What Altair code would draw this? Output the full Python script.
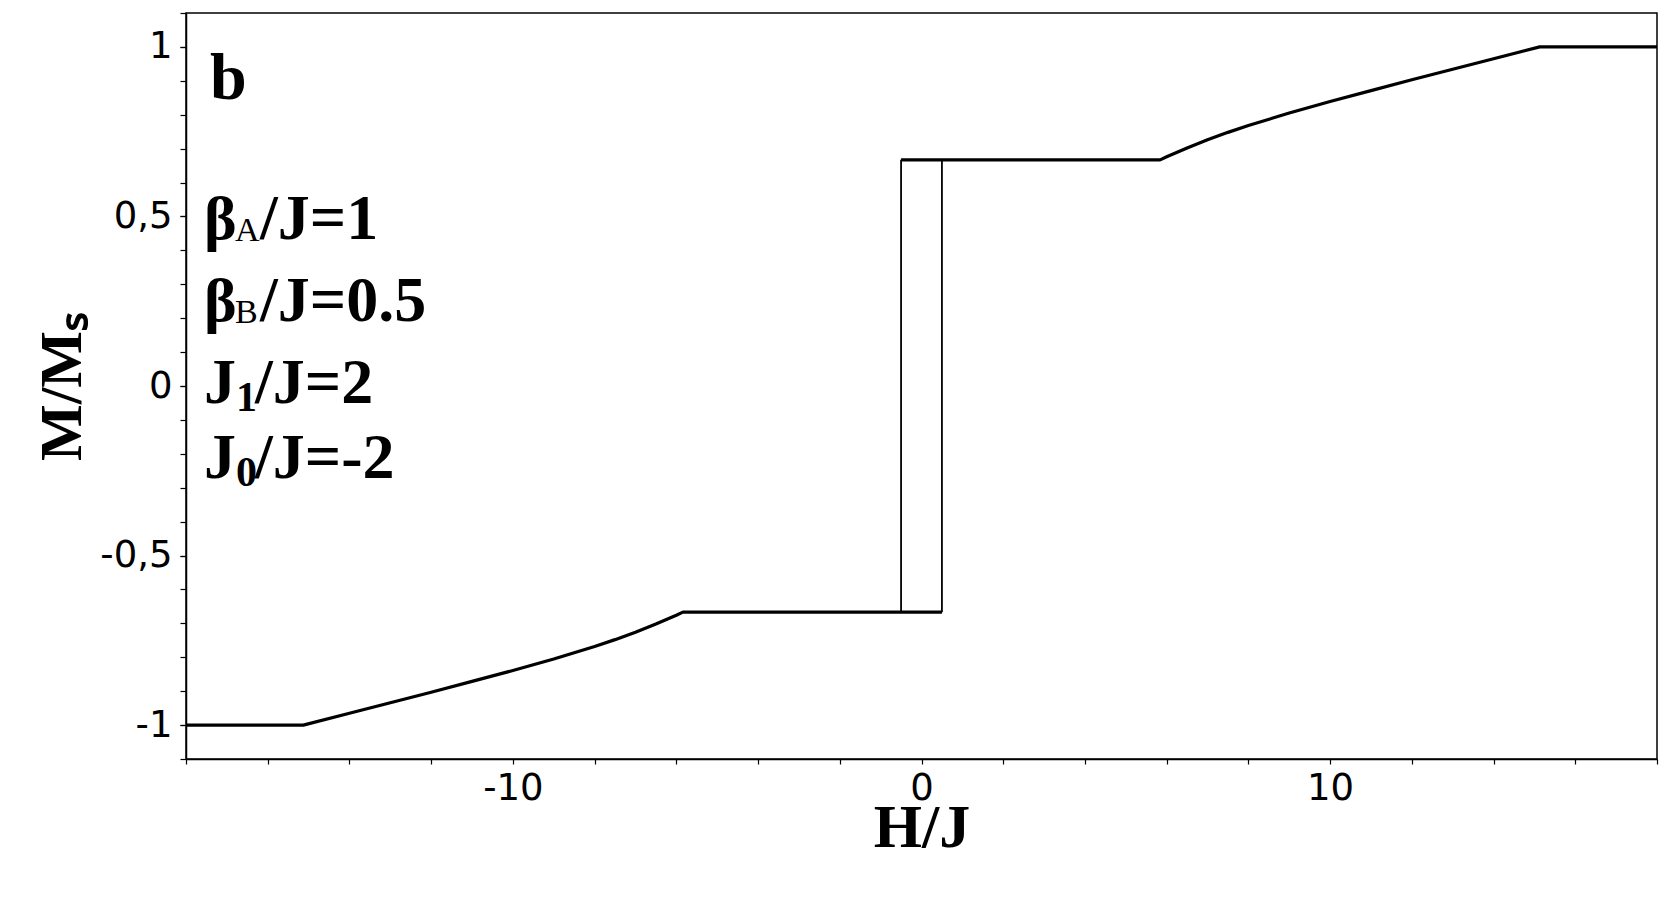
import altair as alt
import pandas as pd

# ---- data ----
# lower branch: M = -1 plateau, rising part, -2/3 plateau up to the jump at H = +0.5
H_low = [-18, -15.13, -14, -13, -12, -11, -10, -9, -8, -7.5, -7, -6.5, -6, -5.84, 0.5]
M_low = [-1, -1, -0.965, -0.934, -0.903, -0.871, -0.839, -0.805, -0.768, -0.748,
         -0.726, -0.702, -0.676, -0.667, -0.667]
# upper branch: +2/3 plateau from the jump at H = -0.5, rising part, M = 1 plateau
H_high = [-0.5, 5.84, 6, 6.5, 7, 7.5, 8, 9, 10, 11, 12, 13, 14, 15.13, 18]
M_high = [0.667, 0.667, 0.676, 0.702, 0.726, 0.748, 0.768, 0.805, 0.839, 0.871,
          0.903, 0.934, 0.965, 1, 1]
# vertical jumps of the hysteresis loop
jump_H = [-0.5, 0.5]
jump_M_from = [-0.667, -0.667]
jump_M_to = [0.667, 0.667]

x_ticks = [-18, -16, -14, -12, -10, -8, -6, -4, -2, 0, 2, 4, 6, 8, 10, 12, 14, 16, 18]
y_major = [-1, -0.5, 0, 0.5, 1]
y_minor = [-1.1, -1.0, -0.9, -0.8, -0.7, -0.6, -0.5, -0.4, -0.3, -0.2, -0.1, 0.0,
           0.1, 0.2, 0.3, 0.4, 0.5, 0.6, 0.7, 0.8, 0.9, 1.0, 1.1]

# annotation text
panel_label = ["b"]
panel_H = [-17.41]
panel_M = [0.847]
ann_H = -17.56
line_M = [0.433, 0.193, -0.049, -0.271]
heads = ["β", "β", "J", "J"]
subs = ["A", "B", "1", "0"]
tails = ["/J=1", "/J=0.5", "/J=2", "/J=-2"]

# ---- tables ----
curve = pd.DataFrame({
    "H": H_low + H_high,
    "M": M_low + M_high,
    "branch": ["low"] * len(H_low) + ["high"] * len(H_high),
    "idx": list(range(len(H_low))) + list(range(len(H_high))),
})
jumps = pd.DataFrame({"H": jump_H, "M0": jump_M_from, "M1": jump_M_to})
ann = pd.DataFrame({"H": [ann_H] * 4, "M": line_M, "head": heads, "sub": subs, "tail": tails})
ann_greek = ann.iloc[0:2]
ann_j = ann.iloc[2:4]
lab = pd.DataFrame({"H": panel_H, "M": panel_M, "t": panel_label})

Y_DOMAIN = [-1.1, 1.1]
xscale = alt.Scale(domain=[-18, 18], nice=False, zero=False)

def yscale():
    return alt.Scale(domain=Y_DOMAIN, nice=False, zero=False)

xaxis = alt.Axis(
    values=x_ticks,
    labelExpr="datum.value % 10 == 0 ? toString(datum.value) : ''",
    title="H/J", titleFont="Liberation Serif", titleFontSize=62, titleFontWeight="bold",
    titleColor="black", titleY=87, titleBaseline="alphabetic",
    labelFont="DejaVu Sans",
    labelFontSize={"condition": {"test": "datum.value % 10 == 0", "value": 37}, "value": 2},
    labelColor="black", labelPadding=6,
    labelOverlap=False, labelFlush=False,
    tickColor="black", tickSize=5, tickWidth=1.2,
    domainColor="black", domainWidth=1.5, grid=False,
)
yaxis_major = alt.Axis(
    orient="left",
    values=y_major,
    labelExpr="replace(toString(datum.value), '.', ',')",
    title="M/Mₛ", titleFont="Liberation Serif", titleFontSize=60, titleFontWeight="bold",
    titleColor="black", titleX=-106, titleY=373, titleAngle=270, titleBaseline="alphabetic",
    labelFont="DejaVu Sans", labelFontSize=37, labelColor="black", labelPadding=8,
    labelOverlap=False, labelFlush=False,
    tickColor="black", tickSize=6, tickWidth=1.2,
    domainColor="black", domainWidth=1.5, grid=False,
)
yaxis_minor = alt.Axis(
    orient="left",
    values=y_minor,
    labels=False, title=None, domain=False, grid=False,
    tickColor="black", tickSize=6, tickWidth=1.2,
)

lines = alt.Chart(curve).mark_line(color="black", strokeWidth=3.2, strokeJoin="round").encode(
    x=alt.X("H:Q", scale=xscale, axis=xaxis),
    y=alt.Y("M:Q", scale=yscale(), axis=yaxis_major),
    detail="branch:N",
    order="idx:Q",
)
rules = alt.Chart(jumps).mark_rule(color="black", strokeWidth=1.8).encode(
    x=alt.X("H:Q", scale=xscale),
    y=alt.Y("M0:Q", scale=yscale(), axis=yaxis_minor),
    y2="M1:Q",
)

def txt(df, field, size, weight, dx, dy):
    return alt.Chart(df).mark_text(
        font="Liberation Serif", fontSize=size, fontWeight=weight, color="black",
        align="left", baseline="alphabetic", dx=dx, dy=dy,
    ).encode(
        x=alt.X("H:Q", scale=xscale),
        y=alt.Y("M:Q", scale=yscale(), axis=None),
        text=f"{field}:N",
    )

layers = [
    lines,
    rules,
    txt(lab, "t", 66, "bold", 0, 0),
    txt(ann_greek, "head", 62, "bold", 0, 0),
    txt(ann_j, "head", 64, "bold", 0, 0),
    txt(ann_greek, "sub", 34, "normal", 31, 2),
    txt(ann_j, "sub", 42, "bold", 32, 8),
    txt(ann_greek, "tail", 64, "bold", 56, 0),
    txt(ann_j, "tail", 64, "bold", 51, 0),
]

chart = alt.layer(*layers).resolve_scale(y="independent").properties(
    width=1471, height=746,
    autosize=alt.AutoSizeParams(type="none"),
    padding={"left": 178, "top": 5, "right": 15, "bottom": 110},
    background="white",
).configure_view(
    stroke="black", strokeWidth=1.5
).configure_axis(
    labelOverlap=False
)

chart.save("out.html", embed_options={"renderer": "svg", "actions": False})
